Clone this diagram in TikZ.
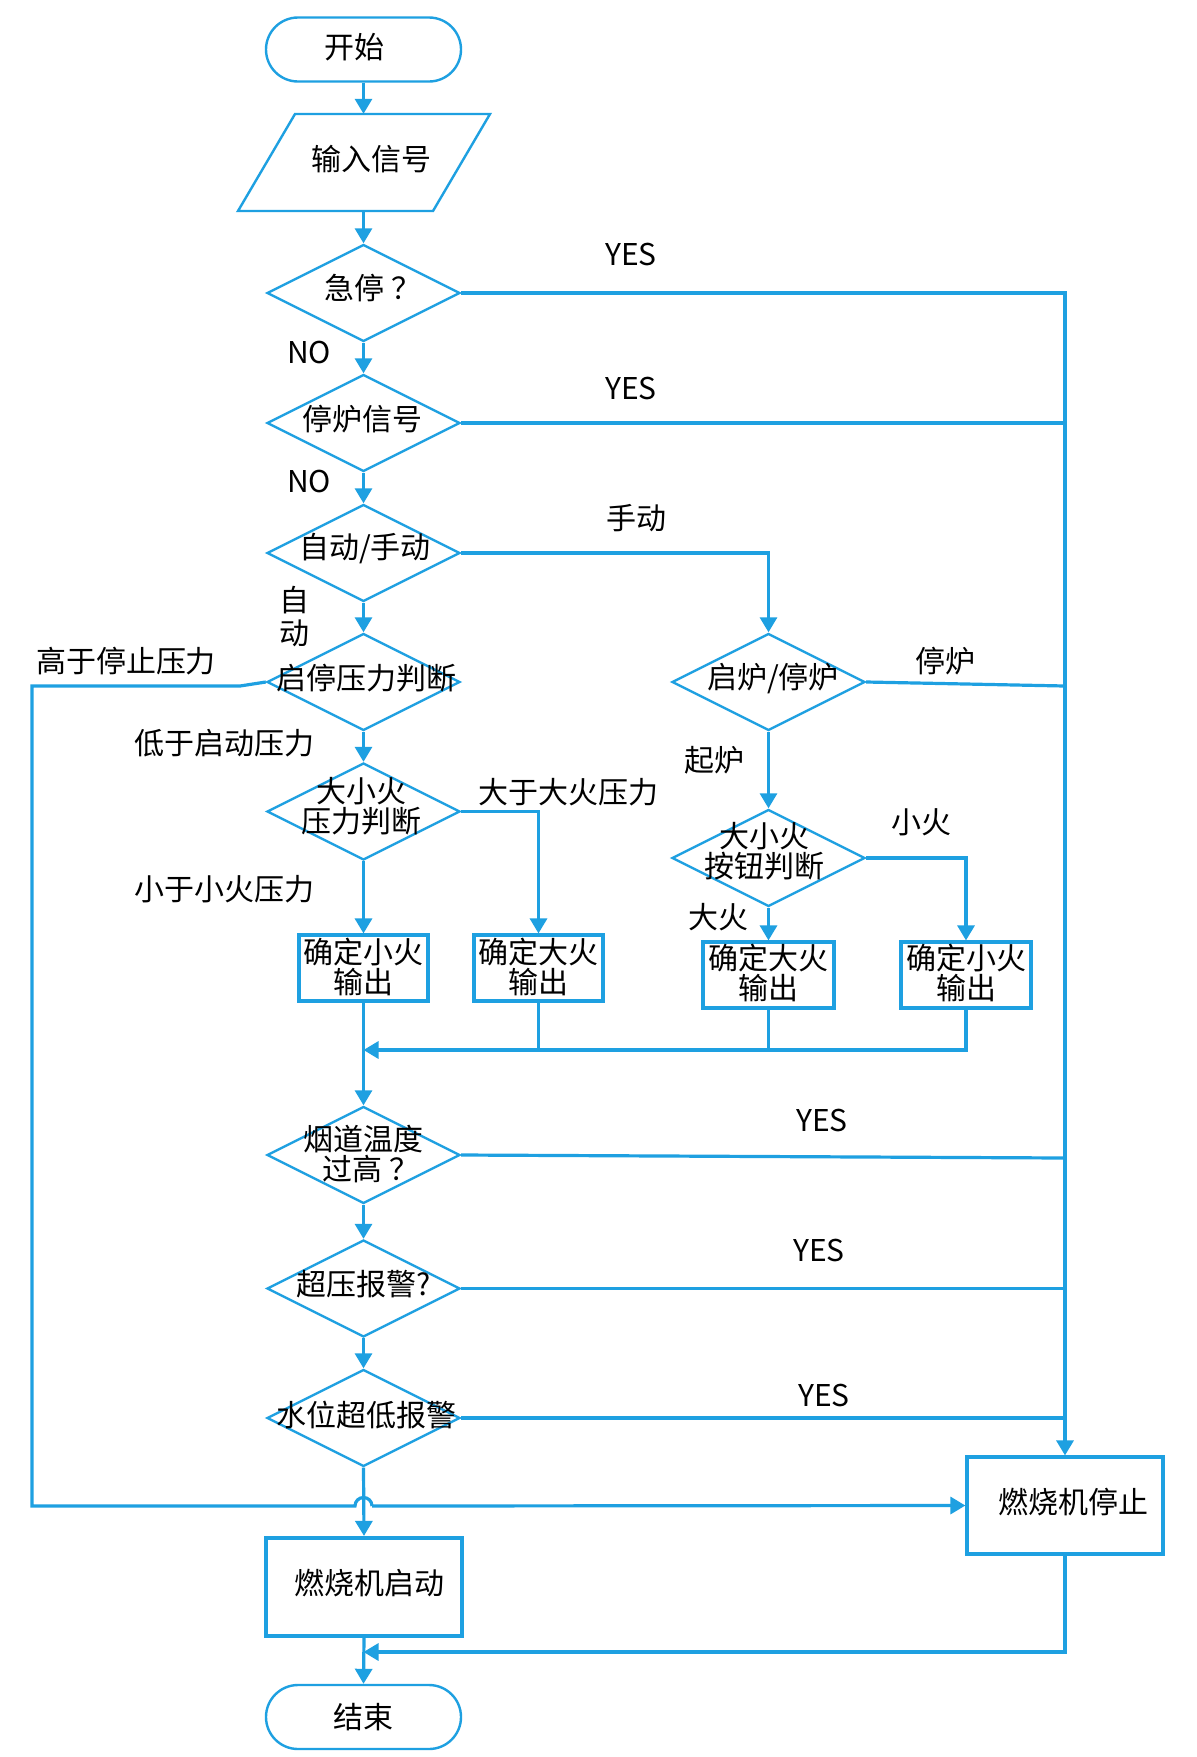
\documentclass[tikz,border=0pt]{standalone}
\usepackage{fontspec}
\newfontfamily\cjk{Noto Sans CJK SC}
\usetikzlibrary{shapes.geometric,arrows.meta,calc}
\definecolor{cb}{RGB}{30,160,225}
\begin{document}
\begin{tikzpicture}[x=1pt,y=-1pt,
  ln/.style={draw=cb, line width=3.2pt},
  arr/.style={ln, -{Triangle[width=17pt,length=15pt]}},
  dec/.style={diamond, draw=cb, line width=2.4pt, minimum width=193pt, minimum height=97pt, inner sep=0pt},
  proc/.style={rectangle, draw=cb, line width=3.2pt, inner sep=0pt},
  term/.style={rectangle, rounded corners=32pt, draw=cb, line width=2.4pt, minimum width=195pt, minimum height=64pt, inner sep=0pt},
  txt/.style={font=\cjk\fontsize{30}{30}\selectfont, align=center, inner sep=0pt, text=black},
]
\useasboundingbox[fill=white] (0,0) rectangle (1197,1757);

% nodes
\node[term] (start) at (363.5,49.5) {};
\node[txt] at (354,47) {开始};
\draw[cb, line width=2.4pt, line join=miter] (295,114) -- (490,114) -- (433,211) -- (238,211) -- cycle;
\node[minimum width=150pt, minimum height=97pt, inner sep=0pt] (inp) at (363.5,162.5) {};
\node[txt] at (371,159) {输入信号};

\node[dec] (d1) at (363.5,293) {};
\node[txt] at (373,288) {急停\hspace{8pt}？};
\node[dec] (d2) at (363.5,423) {};
\node[txt] at (362,419) {停炉信号};
\node[dec] (d3) at (363.5,553) {};
\node[txt] at (365,549) {自动/手动};
\node[dec] (d4) at (363.5,682) {};
\node[txt] at (366,678) {启停压力判断};
\node[dec] (d5) at (363.5,811.5) {};
\node[txt] at (361,806) {大小火\\压力判断};

\node[proc, minimum width=129pt, minimum height=66pt] (b1) at (363.5,968) {};
\node[txt] at (363.5,967) {确定小火\\输出};
\node[proc, minimum width=129pt, minimum height=66pt] (b2) at (538.5,968) {};
\node[txt] at (538.5,967) {确定大火\\输出};

\node[dec] (d6) at (768.5,682) {};
\node[txt] at (773,678) {启炉/停炉};
\node[dec] (d7) at (768.5,858) {};
\node[txt] at (764,851) {大小火\\按钮判断};
\node[proc, minimum width=131pt, minimum height=66pt] (b3) at (768.5,975) {};
\node[txt] at (768.5,973) {确定大火\\输出};
\node[proc, minimum width=130pt, minimum height=66pt] (b4) at (966,975) {};
\node[txt] at (966,973) {确定小火\\输出};

\node[dec] (d8) at (363.5,1155) {};
\node[txt] at (363.5,1139) {烟道温度};
\node[txt] at (371,1169) {过高\hspace{8pt}？};
\node[dec] (d9) at (363.5,1288.5) {};
\node[txt] at (364,1284) {超压报警?};
\node[dec] (d10) at (363.5,1418) {};
\node[txt] at (366,1415) {水位超低报警};

\node[proc, line width=4.2pt, minimum width=196pt, minimum height=98pt] (sb) at (364,1587) {};
\node[txt] at (369,1583) {燃烧机启动};
\node[proc, minimum width=196pt, minimum height=97pt] (stp) at (1065,1505.5) {};
\node[txt] at (1073,1502) {燃烧机停止};
\node[term] (end) at (363.5,1717) {};
\node[txt] at (363,1717) {结束};

\coordinate (m1) at (363.5,1050);
\coordinate (m2) at (363.5,1652);
\coordinate (lx) at (32,686);

% connectors main column
\draw[arr] (start.south) -- (inp.north);
\draw[arr] (inp.south) -- (d1.north);
\draw[arr] (d1.south) -- (d2.north);
\draw[arr] (d2.south) -- (d3.north);
\draw[arr] (d3.south) -- (d4.north);
\draw[arr] (d4.south) -- (d5.north);
\draw[arr] (d5.south) -- (b1.north);
\draw[arr] (d5.east) -| (b2.north);
\draw[arr] (d3.east) -| (d6.north);
\draw[arr] (d6.south) -- (d7.north);
\draw[arr] (d7.south) -- (b3.north);
\draw[arr] (d7.east) -| (b4.north);
\draw[arr] (b4.south) |- (m1);
\draw[ln] (b3.south) -- (b3.south |- m1);
\draw[ln] (b2.south) -- (b2.south |- m1);
\draw[arr] (b1.south) -- (d8.north);
\draw[arr] (d8.south) -- (d9.north);
\draw[arr] (d9.south) -- (d10.north);
\draw[arr] (d10.south) -- (sb.north);
\draw[arr] (sb.south) -- (end.north);

% right bus
\draw[arr] (d1.east) -| (stp.north);
\draw[ln] (d2.east) -- (d2.east -| stp.north);
\draw[ln] (d6.east) -- (1065,686);
\draw[ln] (d8.east) -- (1065,1158);
\draw[ln] (d9.east) -- (d9.east -| stp.north);
\draw[ln] (d10.east) -- (d10.east -| stp.north);
\draw[arr] (stp.south) |- (m2);

% left loop with jump
\draw[ln] (d4.west) -- (240,686) -- (lx) -- (32,1506) -- (355,1506)
  arc[start angle=180, end angle=0, radius=8.5pt];
\draw[arr] (372,1506) -- (stp.west);

% labels
\node[txt] at (631,254) {YES};
\node[txt] at (309,352) {NO};
\node[txt] at (631,388) {YES};
\node[txt] at (309,481) {NO};
\node[txt] at (636,518) {手动};
\node[txt] at (294,600) {自};
\node[txt] at (294,633) {动};
\node[txt] at (126,661) {高于停止压力};
\node[txt] at (945,661) {停炉};
\node[txt] at (224,743) {低于启动压力};
\node[txt] at (568,792) {大于大火压力};
\node[txt] at (714,760) {起炉};
\node[txt] at (921,822) {小火};
\node[txt] at (224,889) {小于小火压力};
\node[txt] at (718,917) {大火};
\node[txt] at (822,1120) {YES};
\node[txt] at (819,1250) {YES};
\node[txt] at (824,1395) {YES};
\end{tikzpicture}
\end{document}
